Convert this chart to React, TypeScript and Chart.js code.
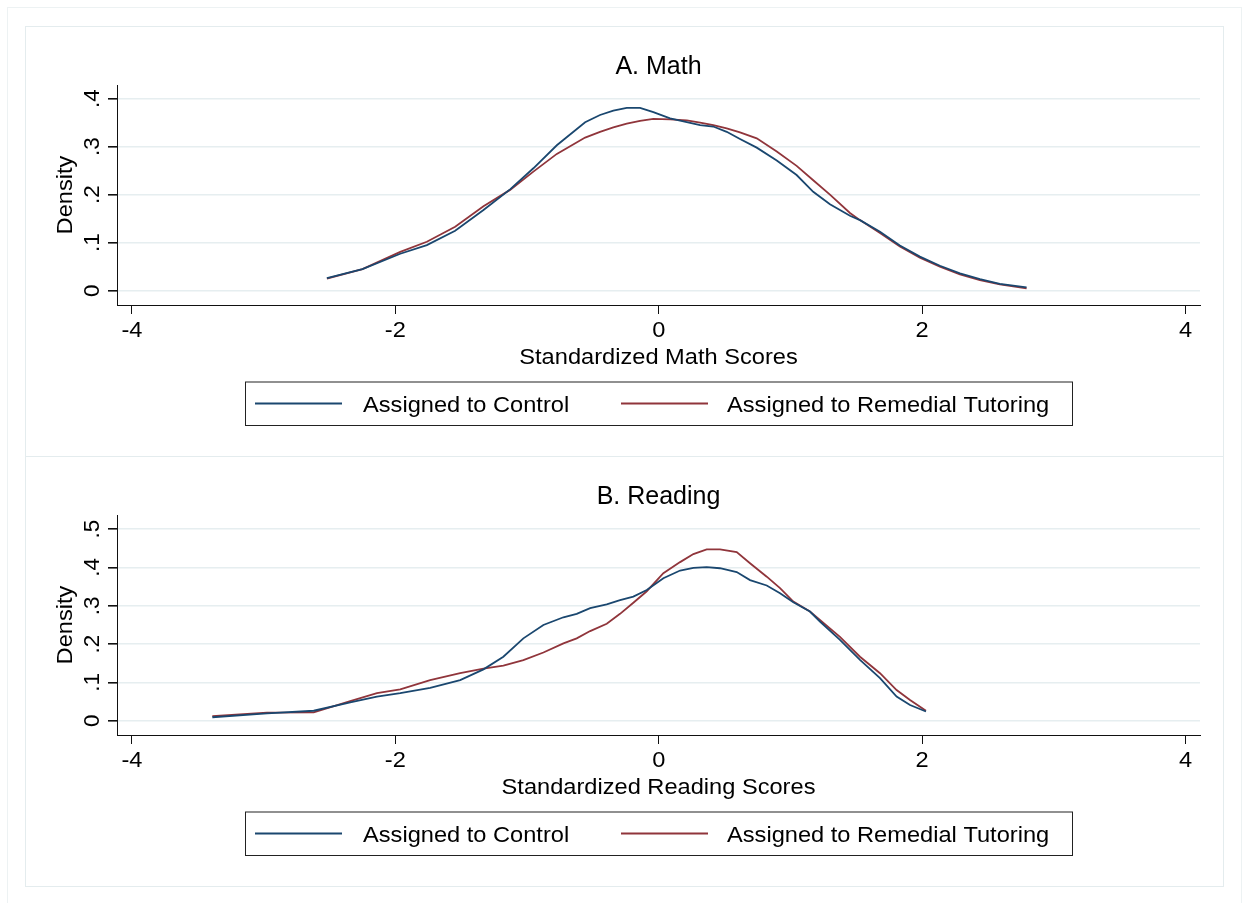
import React, { useEffect, useRef } from "react";
import { Chart, registerables } from "chart.js";

Chart.register(...registerables);

// ---------- data ----------
const xTicks = [-4, -2, 0, 2, 4];
const mathYTicks = [0, 0.1, 0.2, 0.3, 0.4];
const readYTicks = [0, 0.1, 0.2, 0.3, 0.4, 0.5];
const seriesLabels = ["Assigned to Control", "Assigned to Remedial Tutoring"];

const mathX = [
  -2.52, -2.25, -1.963, -1.761, -1.546, -1.331, -1.129, -0.952, -0.774, -0.559,
  -0.446, -0.345, -0.243, -0.142, -0.041, 0.086, 0.213, 0.314, 0.414, 0.516,
  0.617, 0.744, 0.896, 1.047, 1.173, 1.3, 1.452, 1.528, 1.68, 1.831,
  1.983, 2.135, 2.287, 2.439, 2.59, 2.793,
];
const mathControl = [
  0.026, 0.045, 0.077, 0.095, 0.125, 0.168, 0.211, 0.255, 0.303, 0.351,
  0.366, 0.375, 0.381, 0.381, 0.372, 0.359, 0.351, 0.345, 0.342, 0.331,
  0.316, 0.298, 0.271, 0.241, 0.206, 0.18, 0.156, 0.147, 0.123, 0.094,
  0.071, 0.052, 0.036, 0.024, 0.014, 0.007,
];
const mathTutoring = [
  0.025, 0.045, 0.081, 0.102, 0.133, 0.176, 0.21, 0.248, 0.285, 0.319,
  0.331, 0.34, 0.348, 0.354, 0.358, 0.357, 0.355, 0.35, 0.345, 0.338,
  0.33, 0.3175, 0.29, 0.26, 0.23, 0.2, 0.162, 0.147, 0.12, 0.092,
  0.069, 0.05, 0.034, 0.022, 0.013, 0.005,
];

const readX = [
  -3.39, -2.975, -2.62, -2.343, -2.14, -1.963, -1.736, -1.508, -1.331, -1.18,
  -1.028, -0.876, -0.724, -0.623, -0.521, -0.395, -0.294, -0.193, -0.091, 0.035,
  0.162, 0.263, 0.364, 0.465, 0.592, 0.693, 0.82, 0.921, 1.022, 1.148,
  1.224, 1.376, 1.528, 1.68, 1.806, 1.908, 2.029,
];
const readControl = [
  0.009, 0.019, 0.026, 0.048, 0.063, 0.072, 0.086, 0.106, 0.134, 0.167,
  0.215, 0.25, 0.27, 0.279, 0.294, 0.304, 0.315, 0.324, 0.341, 0.372,
  0.392, 0.399, 0.401, 0.398, 0.388, 0.367, 0.353, 0.333, 0.309, 0.285,
  0.259, 0.211, 0.159, 0.111, 0.063, 0.041, 0.024,
];
const readTutoring = [
  0.012, 0.021, 0.022, 0.051, 0.072, 0.082, 0.106, 0.124, 0.136, 0.144,
  0.158, 0.178, 0.202, 0.215, 0.234, 0.253, 0.279, 0.308, 0.338, 0.385,
  0.414, 0.435, 0.4475, 0.4475, 0.44, 0.411, 0.376, 0.346, 0.311, 0.285,
  0.263, 0.219, 0.167, 0.124, 0.08, 0.054, 0.026,
];

// ---------- style ----------
const BLUE = "#1a476f";
const RED = "#90353b";
const GRID = "#e6eef0";
const AXIS = "#111111";
const FONT = '"Liberation Sans", Arial, Helvetica, sans-serif';
const SX = 1.05; // slight horizontal widening of Helvetica-like text

const fmtY = (v: number) => (v === 0 ? "0" : String(v).replace(/^0/, ""));

type Panel = {
  title: string;
  xTitle: string;
  xs: number[];
  control: number[];
  tutoring: number[];
  yTicks: number[];
  yMin: number;
  yMax: number;
};

const panels: Panel[] = [
  {
    title: "A. Math",
    xTitle: "Standardized Math Scores",
    xs: mathX,
    control: mathControl,
    tutoring: mathTutoring,
    yTicks: mathYTicks,
    yMin: -0.0298,
    yMax: 0.4285,
  },
  {
    title: "B. Reading",
    xTitle: "Standardized Reading Scores",
    xs: readX,
    control: readControl,
    tutoring: readTutoring,
    yTicks: readYTicks,
    yMin: -0.0373,
    yMax: 0.537,
  },
];

const CW = 1243;
const CH = 430;

function drawText(
  ctx: CanvasRenderingContext2D,
  text: string,
  x: number,
  y: number,
  align: CanvasTextAlign,
  sx: number
) {
  ctx.save();
  ctx.translate(x, y);
  ctx.scale(sx, 1);
  ctx.textAlign = align;
  ctx.fillText(text, 0, 0);
  ctx.restore();
}

function textPlugin(p: Panel) {
  return {
    id: "stataText",
    afterDraw(chart: any) {
      const ctx = chart.ctx as CanvasRenderingContext2D;
      const { left, right, top, bottom } = chart.chartArea;
      const xs = chart.scales.x;
      const ys = chart.scales.y;
      const cx = (left + right) / 2;
      ctx.save();
      ctx.fillStyle = "#000";
      ctx.textBaseline = "alphabetic";
      // title
      ctx.font = `25px ${FONT}`;
      drawText(ctx, p.title, cx, 48, "center", 1);
      // x tick labels
      ctx.font = `22.5px ${FONT}`;
      xTicks.forEach((v) => drawText(ctx, String(v), xs.getPixelForValue(v), 311, "center", SX));
      // x title
      drawText(ctx, p.xTitle, cx, 338, "center", SX);
      // y tick labels (rotated)
      p.yTicks.forEach((v) => {
        ctx.save();
        ctx.translate(99, ys.getPixelForValue(v));
        ctx.rotate(-Math.PI / 2);
        ctx.textAlign = "center";
        ctx.fillText(fmtY(v), 0, 0);
        ctx.restore();
      });
      // y title
      ctx.save();
      ctx.translate(72, (top + bottom) / 2);
      ctx.rotate(-Math.PI / 2);
      ctx.scale(SX, 1);
      ctx.textAlign = "center";
      ctx.fillText("Density", 0, 0);
      ctx.restore();
      // legend box
      const bx = 245, by = 355.5, bw = 827, bh = 43.5;
      ctx.strokeStyle = "#222";
      ctx.lineWidth = 1;
      ctx.strokeRect(bx + 0.5, by + 0.5, bw, bh);
      const ly = 377.5;
      const items = [
        { color: BLUE, x0: 255, x1: 342, tx: 363, label: seriesLabels[0] },
        { color: RED, x0: 621, x1: 708, tx: 727, label: seriesLabels[1] },
      ];
      items.forEach((it) => {
        ctx.strokeStyle = it.color;
        ctx.lineWidth = 2;
        ctx.beginPath();
        ctx.moveTo(it.x0, ly);
        ctx.lineTo(it.x1, ly);
        ctx.stroke();
        ctx.fillStyle = "#000";
        drawText(ctx, it.label, it.tx, 386, "left", SX);
      });
      ctx.restore();
    },
  };
}

function makeConfig(p: Panel): any {
  return {
    type: "line",
    data: {
      datasets: [
        {
          label: seriesLabels[0],
          data: p.xs.map((x, i) => ({ x, y: p.control[i] })),
          borderColor: BLUE,
          backgroundColor: BLUE,
          borderWidth: 1.8,
          pointRadius: 0,
          tension: 0,
          fill: false,
        },
        {
          label: seriesLabels[1],
          data: p.xs.map((x, i) => ({ x, y: p.tutoring[i] })),
          borderColor: RED,
          backgroundColor: RED,
          borderWidth: 1.8,
          pointRadius: 0,
          tension: 0,
          fill: false,
        },
      ],
    },
    options: {
      responsive: false,
      maintainAspectRatio: false,
      animation: false,
      devicePixelRatio: 1,
      layout: { padding: { left: 77, right: 43, top: 59, bottom: 131 } },
      plugins: {
        legend: { display: false },
        title: { display: false },
        tooltip: { enabled: false },
      },
      scales: {
        x: {
          type: "linear",
          min: -4.1139,
          max: 4.11,
          afterBuildTicks: (s: any) => {
            s.ticks = xTicks.map((v) => ({ value: v }));
          },
          afterFit: (s: any) => {
            s.height = 20;
          },
          ticks: { display: false },
          grid: {
            display: true,
            color: "rgba(0,0,0,0)",
            tickColor: AXIS,
            tickLength: 9,
            lineWidth: 1,
          },
          border: { display: true, color: AXIS, width: 1 },
        },
        y: {
          type: "linear",
          min: p.yMin,
          max: p.yMax,
          afterBuildTicks: (s: any) => {
            s.ticks = p.yTicks.map((v) => ({ value: v }));
          },
          afterFit: (s: any) => {
            s.width = 40;
          },
          ticks: { display: false },
          grid: {
            display: true,
            color: GRID,
            lineWidth: 1.6,
            tickColor: AXIS,
            tickLength: 9,
          },
          border: { display: true, color: AXIS, width: 1 },
        },
      },
    },
    plugins: [textPlugin(p)],
  };
}

function PanelChart({ panel, top }: { panel: Panel; top: number }) {
  const ref = useRef<HTMLCanvasElement | null>(null);
  useEffect(() => {
    if (!ref.current) return;
    const chart = new Chart(ref.current, makeConfig(panel));
    return () => chart.destroy();
  }, [panel]);
  return (
    <canvas
      ref={ref}
      width={CW}
      height={CH}
      style={{ position: "absolute", left: 0, top, width: CW, height: CH }}
    />
  );
}

export default function App() {
  return (
    <div
      style={{
        position: "absolute",
        left: 0,
        top: 0,
        width: 1243,
        height: 903,
        background: "#ffffff",
        overflow: "hidden",
      }}
    >
      <div
        style={{
          position: "absolute",
          left: 7,
          top: 7,
          width: 1235,
          height: 905,
          border: "1px solid #edf2f3",
          boxSizing: "border-box",
        }}
      />
      <div
        style={{
          position: "absolute",
          left: 25,
          top: 26,
          width: 1199,
          height: 431,
          border: "1px solid #e4ecee",
          boxSizing: "border-box",
        }}
      />
      <div
        style={{
          position: "absolute",
          left: 25,
          top: 456,
          width: 1199,
          height: 431,
          border: "1px solid #e4ecee",
          boxSizing: "border-box",
        }}
      />
      <PanelChart panel={panels[0]} top={26} />
      <PanelChart panel={panels[1]} top={456} />
    </div>
  );
}
